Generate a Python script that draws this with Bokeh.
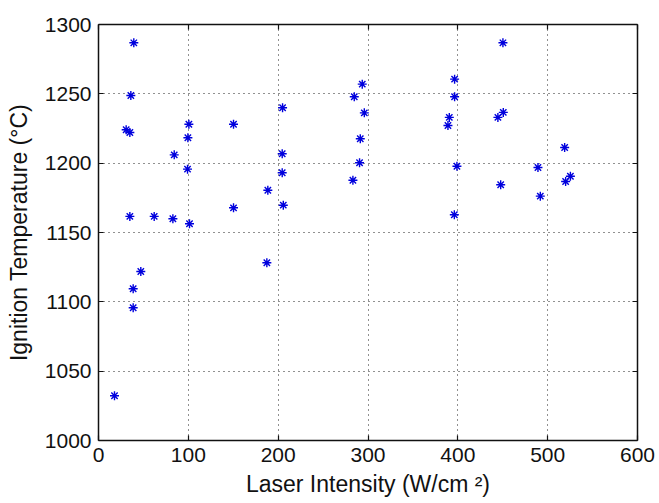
from bokeh.plotting import figure
from bokeh.models import Range1d, FixedTicker, LinearAxis, ColumnDataSource
from bokeh.embed import file_html
from bokeh.resources import INLINE

# Laser intensity (W/cm^2) and measured ignition temperature (deg C)
intensity = [39.3, 36.0, 30.8, 34.9, 34.9, 62.0, 82.8, 101.3, 84.3, 99.5,
             100.6, 99.1, 150.3, 150.3, 188.5, 204.9, 204.5, 204.5, 205.7,
             47.1, 38.6, 38.6, 17.8, 187.4,
             293.6, 284.7, 295.9, 291.4, 290.6, 283.2,
             396.4, 396.4, 390.5, 389.0, 399.0, 396.1,
             450.2, 450.6, 444.6, 447.7, 489.2, 491.8, 518.9, 525.3, 520.0]
temperature = [1286.8, 1248.8, 1224.1, 1222.1, 1161.6, 1161.6, 1159.9, 1156.3, 1206.0, 1218.3,
               1228.1, 1195.7, 1228.1, 1167.8, 1180.5, 1240.0, 1206.8, 1193.1, 1169.7,
               1121.9, 1109.4, 1095.7, 1032.3, 1128.2,
               1257.0, 1247.9, 1236.3, 1217.6, 1200.3, 1187.7,
               1260.6, 1247.9, 1233.0, 1227.2, 1197.8, 1162.8,
               1286.8, 1236.6, 1233.0, 1184.4, 1196.9, 1176.2, 1211.3, 1190.6, 1186.8]

x_ticks = [0, 100, 200, 300, 400, 500, 600]
y_ticks = [1000, 1050, 1100, 1150, 1200, 1250, 1300]

FONT = "Liberation Sans"
INK = "#111111"

p = figure(width=659, height=503, output_backend="svg", toolbar_location=None,
           x_range=Range1d(0, 600), y_range=Range1d(1000, 1300),
           min_border_left=98, min_border_right=22, min_border_top=24, min_border_bottom=63,
           background_fill_color="white", border_fill_color="white")
p.outline_line_color = None

src = ColumnDataSource(dict(x=intensity, y=temperature))
p.scatter("x", "y", source=src, marker="asterisk", size=9, line_color="#0000dd", line_width=1.4)

def style_axis(ax, ticks, show_labels):
    ax.ticker = FixedTicker(ticks=ticks)
    ax.axis_line_color = INK
    ax.axis_line_width = 1.5
    ax.major_tick_line_color = INK
    ax.major_tick_line_width = 1.2
    ax.major_tick_in = 5
    ax.major_tick_out = 0
    ax.minor_tick_line_color = None
    ax.major_label_text_font = FONT
    if show_labels:
        ax.major_label_text_color = INK
        ax.major_label_text_font_size = "21px"
        ax.major_label_standoff = 7
        ax.axis_label_text_font = FONT
        ax.axis_label_text_font_size = "23px"
        ax.axis_label_text_font_style = "normal"
        ax.axis_label_text_color = INK
    else:
        # box edges carry ticks only
        ax.major_label_text_color = None
        ax.major_label_text_font_size = "1px"
        ax.major_label_standoff = 0

style_axis(p.xaxis[0], x_ticks, True)
style_axis(p.yaxis[0], y_ticks, True)
p.xaxis[0].axis_label = "Laser Intensity (W/cm \u00b2)"
p.xaxis[0].axis_label_standoff = 6
p.yaxis[0].axis_label = "Ignition Temperature (\u00b0C)"
p.yaxis[0].axis_label_standoff = 10

top_axis = LinearAxis()
right_axis = LinearAxis()
style_axis(top_axis, x_ticks, False)
style_axis(right_axis, y_ticks, False)
p.add_layout(top_axis, "above")
p.add_layout(right_axis, "right")

for g, ticks in ((p.xgrid[0], x_ticks), (p.ygrid[0], y_ticks)):
    g.ticker = FixedTicker(ticks=ticks)
    g.grid_line_color = "#222222"
    g.grid_line_dash = "1 4"
    g.grid_line_width = 1

open("out.html", "w").write(file_html(p, INLINE))
